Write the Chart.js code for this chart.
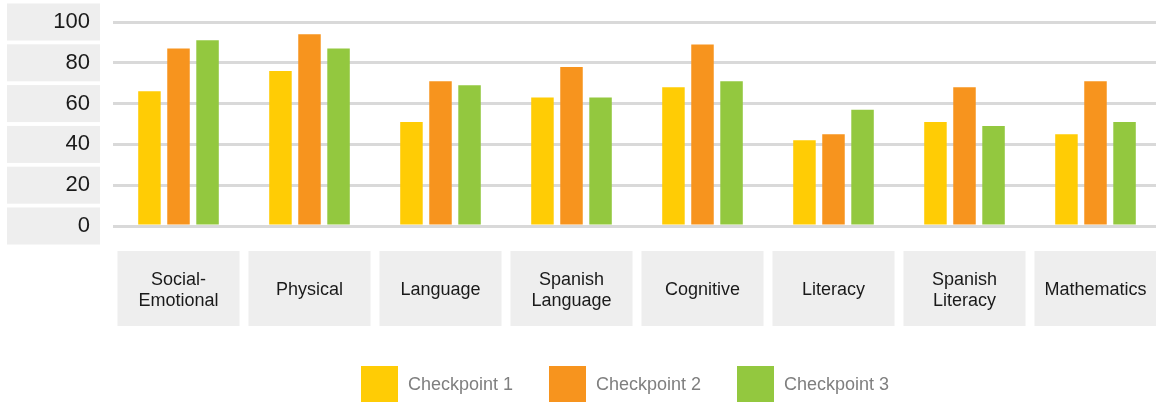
<!DOCTYPE html>
<html>
<head>
<meta charset="utf-8">
<script src="https://cdn.jsdelivr.net/npm/chart.js@4.4.1/dist/chart.umd.min.js"></script>
<style>
  body { margin: 0; background: #fff; }
  #wrap { position: relative; width: 1156px; height: 402px; overflow: hidden; }
  #legend {
    position: absolute; left: 361px; top: 366px; display: flex;
    font-family: "Liberation Sans", Arial, sans-serif; font-size: 18px; color: #7f7f7f;
  }
  .item { display: flex; align-items: center; width: 188px; }
  .swatch { width: 37px; height: 36px; margin-right: 10px; }
</style>
</head>
<body>
<div id="wrap">
  <!-- canvas a bit wider than the window: plot runs past the right edge like the original -->
  <canvas id="chart" width="1161" height="402"></canvas>
  <div id="legend"></div>
</div>
<script>
// data
const categories = [["Social-", "Emotional"], "Physical", "Language", ["Spanish", "Language"],
                    "Cognitive", "Literacy", ["Spanish", "Literacy"], "Mathematics"];
const seriesNames = ["Checkpoint 1", "Checkpoint 2", "Checkpoint 3"];
const checkpoint1 = [66, 76, 51, 63, 68, 42, 51, 45];
const checkpoint2 = [87, 94, 71, 78, 89, 45, 68, 71];
const checkpoint3 = [91, 87, 69, 63, 71, 57, 49, 51];
const yTicks = [0, 20, 40, 60, 80, 100];
const colors = ["#FFCC05", "#F7941E", "#93C83F"];

const FONT = "'Liberation Sans', Arial, sans-serif";

// grey boxes behind the tick labels
const labelBoxes = {
  id: "labelBoxes",
  beforeDraw(chart) {
    const ctx = chart.ctx;
    const y = chart.scales.y, x = chart.scales.x;
    ctx.save();
    ctx.fillStyle = "#eeeeee";
    y.ticks.forEach((t, i) => {
      const py = y.getPixelForTick(i);
      ctx.fillRect(7, py - 18.5, 93, 37);
    });
    categories.forEach((c, i) => {
      const px = x.getPixelForValue(i);
      ctx.fillRect(px - 61, 251, 122, 75);
    });
    ctx.restore();
  }
};

const datasets = [checkpoint1, checkpoint2, checkpoint3].map((d, i) => ({
  label: seriesNames[i],
  data: d,
  backgroundColor: colors[i],
  borderWidth: 0,
  categoryPercentage: 0.665,
  barPercentage: 0.775
}));

new Chart(document.getElementById("chart"), {
  type: "bar",
  data: { labels: categories, datasets: datasets },
  options: {
    responsive: false,
    animation: false,
    devicePixelRatio: 1,
    layout: { padding: { top: 22, right: 0, bottom: 0, left: 0 } },
    plugins: { legend: { display: false }, tooltip: { enabled: false } },
    scales: {
      x: {
        grid: { display: false },
        border: { display: false },
        afterFit(scale) {
          scale.height = 176;
          scale.paddingLeft = 0;
          scale.paddingRight = 0;
        },
        ticks: {
          crossAlign: "center",
          padding: 46,
          maxRotation: 0,
          autoSkip: false,
          color: "#1a1a1a",
          font: { family: FONT, size: 18, lineHeight: 21 / 18 }
        }
      },
      y: {
        min: 0,
        max: 100,
        afterBuildTicks(scale) { scale.ticks = yTicks.map(v => ({ value: v })); },
        afterFit(scale) {
          scale.width = 113;
          scale.paddingTop = 0;
          scale.paddingBottom = 0;
        },
        grid: { color: "#d9d9d9", lineWidth: 3, drawTicks: false },
        border: { display: false },
        ticks: {
          padding: 23,
          color: "#1a1a1a",
          font: { family: FONT, size: 22 }
        }
      }
    }
  },
  plugins: [labelBoxes]
});

// legend
const legend = document.getElementById("legend");
seriesNames.forEach((name, i) => {
  const item = document.createElement("div");
  item.className = "item";
  item.innerHTML = `<span class="swatch" style="background:${colors[i]}"></span><span>${name}</span>`;
  legend.appendChild(item);
});
</script>
</body>
</html>
